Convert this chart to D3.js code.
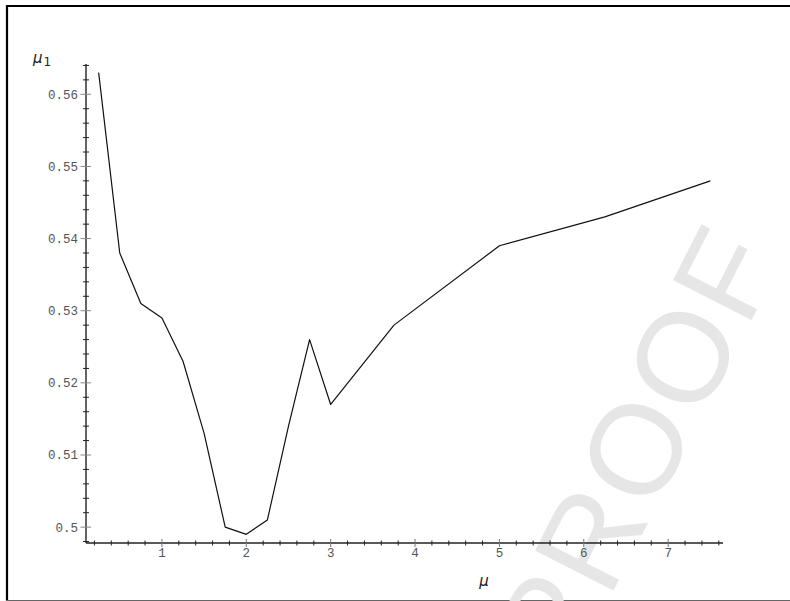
<!DOCTYPE html>
<html>
<head>
<meta charset="utf-8">
<script src="https://cdn.jsdelivr.net/npm/d3@7"></script>
<style>
  html, body { margin: 0; padding: 0; background: #fff; }
  svg { display: block; }
</style>
</head>
<body>
<svg id="chart" width="790" height="601"></svg>
<script>
// mu values and corresponding mu_1 values
const muValues  = [0.25, 0.5, 0.75, 1, 1.25, 1.5, 1.75, 2, 2.25, 2.5, 2.75, 3, 3.75, 5, 6.25, 7.5];
const mu1Values = [0.563, 0.538, 0.531, 0.529, 0.523, 0.513, 0.500, 0.499, 0.501, 0.514, 0.526, 0.517, 0.528, 0.539, 0.543, 0.548];

const xTickValues = [1, 2, 3, 4, 5, 6, 7];
const xTickLabels = ["1", "2", "3", "4", "5", "6", "7"];
const yTickValues = [0.50, 0.51, 0.52, 0.53, 0.54, 0.55, 0.56];
const yTickLabels = ["0.5", "0.51", "0.52", "0.53", "0.54", "0.55", "0.56"];

const svg = d3.select("#chart");

// Page frame
svg.append("line").attr("x1", 6).attr("x2", 790).attr("y1", 6).attr("y2", 6)
  .attr("stroke", "#000").attr("stroke-width", 2.2);
svg.append("line").attr("x1", 7).attr("x2", 7).attr("y1", 5).attr("y2", 601)
  .attr("stroke", "#000").attr("stroke-width", 2.2);
svg.append("line").attr("x1", 6).attr("x2", 790).attr("y1", 600.5).attr("y2", 600.5)
  .attr("stroke", "#666").attr("stroke-width", 1);

// Watermark
svg.append("text")
  .attr("transform", "translate(784,256) rotate(-63)")
  .attr("text-anchor", "end")
  .attr("font-family", "'Liberation Sans', Arial, sans-serif")
  .attr("font-size", 128)
  .attr("letter-spacing", 4)
  .attr("fill", "#e6e6e6")
  .text("PROOF");

const x = d3.scaleLinear().domain([0.1, 7.65]).range([86, 723]);
const y = d3.scaleLinear().domain([0.4978, 0.5642]).range([543, 64]);

const tickFont = "'Liberation Mono', 'DejaVu Sans Mono', monospace";

// X axis: line, minor ticks, major ticks, labels
const gx = svg.append("g");
gx.append("line").attr("x1", x.range()[0]).attr("x2", x.range()[1])
  .attr("y1", 543).attr("y2", 543).attr("stroke", "#222").attr("stroke-width", 1.4);
const xMinor = d3.range(2, 77, 2).map(v => v / 10).filter(v => !Number.isInteger(v));
gx.selectAll("line.minor").data(xMinor).join("line").attr("class", "minor")
  .attr("x1", d => x(d)).attr("x2", d => x(d)).attr("y1", 540.5).attr("y2", 545.5)
  .attr("stroke", "#222").attr("stroke-width", 1);
gx.selectAll("line.major").data(xTickValues).join("line").attr("class", "major")
  .attr("x1", d => x(d)).attr("x2", d => x(d)).attr("y1", 539).attr("y2", 547)
  .attr("stroke", "#777").attr("stroke-width", 1);
gx.selectAll("text").data(xTickValues).join("text")
  .attr("x", d => x(d)).attr("y", 557)
  .attr("text-anchor", "middle")
  .attr("font-family", tickFont).attr("font-size", 12.5).attr("fill", "#555")
  .text((d, i) => xTickLabels[i]);

// Y axis
const gy = svg.append("g");
gy.append("line").attr("x1", 86).attr("x2", 86)
  .attr("y1", y.range()[0]).attr("y2", y.range()[1]).attr("stroke", "#222").attr("stroke-width", 1.4);
const yMinor = d3.range(249, 283).map(v => v * 0.002).filter(v => Math.abs(v * 100 - Math.round(v * 100)) > 1e-6);
gy.selectAll("line.minor").data(yMinor).join("line").attr("class", "minor")
  .attr("x1", 83).attr("x2", 89).attr("y1", d => y(d)).attr("y2", d => y(d))
  .attr("stroke", "#222").attr("stroke-width", 1);
gy.selectAll("line.major").data(yTickValues).join("line").attr("class", "major")
  .attr("x1", 80.5).attr("x2", 91).attr("y1", d => y(d)).attr("y2", d => y(d))
  .attr("stroke", "#888").attr("stroke-width", 1);
gy.selectAll("text").data(yTickValues).join("text")
  .attr("x", 78).attr("y", d => y(d) + 4.5)
  .attr("text-anchor", "end")
  .attr("font-family", tickFont).attr("font-size", 12.5).attr("fill", "#555")
  .text((d, i) => yTickLabels[i]);

// Axis titles
svg.append("text").attr("x", 484).attr("y", 586)
  .attr("font-family", "'DejaVu Sans', sans-serif").attr("font-style", "italic")
  .attr("font-size", 15).attr("fill", "#222").attr("text-anchor", "middle")
  .text("μ");
const yTitle = svg.append("text").attr("x", 33).attr("y", 63)
  .attr("font-family", "'DejaVu Sans', sans-serif").attr("font-size", 15).attr("fill", "#222");
yTitle.append("tspan").attr("font-style", "italic").text("μ");
yTitle.append("tspan").attr("font-size", 12).attr("dy", 3).attr("dx", 1).text("1");

// Data line
const line = d3.line().x((d, i) => x(muValues[i])).y(d => y(d));
svg.append("path").datum(mu1Values)
  .attr("d", line)
  .attr("fill", "none").attr("stroke", "#111").attr("stroke-width", 1.2)
  .attr("stroke-linejoin", "round");
</script>
</body>
</html>
